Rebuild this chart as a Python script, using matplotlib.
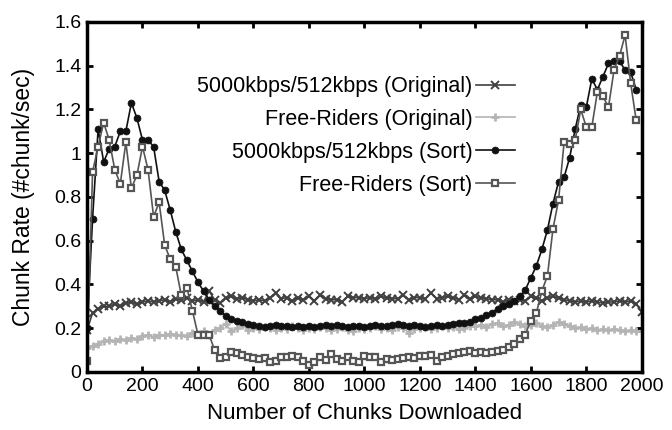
import numpy as np
import matplotlib
matplotlib.use("Agg")
import matplotlib.pyplot as plt

plt.rcParams['font.family'] = ['Liberation Sans', 'DejaVu Sans']

# chunk positions (sampled every 20 chunks)
chunks_orig = np.arange(0, 2001, 20)
chunks_sort = np.arange(0, 1981, 20)

rate_orig = [0.19, 0.27, 0.29, 0.30, 0.30, 0.31, 0.30, 0.315, 0.32, 0.31,
             0.32, 0.325, 0.32, 0.325, 0.33, 0.32, 0.335, 0.33, 0.34, 0.325,
             0.33, 0.32, 0.37, 0.33, 0.315, 0.34, 0.345, 0.335, 0.34, 0.33,
             0.325, 0.33, 0.325, 0.34, 0.36, 0.335, 0.34, 0.325, 0.34, 0.33,
             0.345, 0.325, 0.35, 0.335, 0.33, 0.33, 0.32, 0.345, 0.34, 0.34,
             0.335, 0.34, 0.335, 0.345, 0.34, 0.335, 0.335, 0.35, 0.33, 0.34,
             0.34, 0.335, 0.36, 0.335, 0.34, 0.345, 0.34, 0.33, 0.35, 0.335,
             0.345, 0.34, 0.335, 0.33, 0.33, 0.32, 0.33, 0.325, 0.33, 0.325,
             0.345, 0.34, 0.325, 0.34, 0.345, 0.34, 0.33, 0.325, 0.32, 0.325,
             0.32, 0.325, 0.32, 0.315, 0.32, 0.32, 0.325, 0.32, 0.325, 0.31,
             0.275]

free_orig = [0.11, 0.12, 0.13, 0.14, 0.145, 0.14, 0.15, 0.145, 0.155, 0.15,
             0.165, 0.17, 0.16, 0.17, 0.17, 0.175, 0.17, 0.17, 0.165, 0.18,
             0.175, 0.185, 0.17, 0.19, 0.20, 0.22, 0.185, 0.20, 0.215, 0.19,
             0.20, 0.195, 0.205, 0.20, 0.19, 0.20, 0.195, 0.21, 0.20, 0.19,
             0.20, 0.195, 0.205, 0.20, 0.19, 0.195, 0.205, 0.19, 0.185, 0.20,
             0.195, 0.20, 0.21, 0.195, 0.20, 0.19, 0.205, 0.20, 0.18, 0.195,
             0.20, 0.205, 0.195, 0.20, 0.21, 0.20, 0.205, 0.195, 0.20, 0.21,
             0.21, 0.215, 0.205, 0.22, 0.225, 0.21, 0.215, 0.23, 0.22, 0.21,
             0.215, 0.225, 0.21, 0.205, 0.215, 0.23, 0.22, 0.21, 0.20, 0.205,
             0.195, 0.20, 0.19, 0.195, 0.19, 0.195, 0.19, 0.185, 0.19, 0.185,
             0.185]

rate_sort = [0.20, 0.70, 1.11, 0.96, 1.02, 1.03, 1.10, 1.10, 1.23, 1.16,
             1.06, 1.06, 1.03, 0.87, 0.83, 0.74, 0.64, 0.56, 0.51, 0.46,
             0.41, 0.37, 0.33, 0.30, 0.28, 0.255, 0.24, 0.235, 0.23, 0.22,
             0.215, 0.21, 0.205, 0.21, 0.215, 0.21, 0.21, 0.205, 0.21, 0.205,
             0.21, 0.205, 0.21, 0.215, 0.21, 0.215, 0.21, 0.205, 0.21, 0.21,
             0.205, 0.21, 0.215, 0.21, 0.21, 0.215, 0.22, 0.215, 0.21, 0.215,
             0.21, 0.205, 0.21, 0.215, 0.21, 0.215, 0.22, 0.225, 0.225, 0.23,
             0.24, 0.245, 0.26, 0.27, 0.29, 0.30, 0.31, 0.325, 0.345, 0.375,
             0.43, 0.485, 0.56, 0.65, 0.77, 0.87, 0.89, 0.98, 1.11, 1.22,
             1.21, 1.34, 1.29, 1.35, 1.41, 1.42, 1.42, 1.38, 1.37, 1.29]

free_sort = [0.05, 0.915, 1.03, 1.14, 1.06, 0.925, 0.86, 1.05, 0.84, 0.90,
             1.03, 0.925, 0.71, 0.775, 0.58, 0.515, 0.48, 0.35, 0.385, 0.28,
             0.17, 0.17, 0.17, 0.10, 0.063, 0.07, 0.093, 0.085, 0.078, 0.07,
             0.065, 0.06, 0.065, 0.045, 0.05, 0.07, 0.07, 0.075, 0.07, 0.05,
             0.03, 0.045, 0.07, 0.055, 0.08, 0.06, 0.05, 0.07, 0.05, 0.045,
             0.075, 0.07, 0.07, 0.047, 0.06, 0.055, 0.06, 0.063, 0.068, 0.063,
             0.072, 0.075, 0.078, 0.05, 0.07, 0.075, 0.08, 0.085, 0.09, 0.095,
             0.085, 0.09, 0.085, 0.09, 0.095, 0.10, 0.115, 0.13, 0.15, 0.17,
             0.235, 0.27, 0.37, 0.44, 0.655, 0.785, 1.05, 1.04, 1.06, 1.20,
             1.12, 1.12, 1.28, 1.26, 1.21, 1.38, 1.445, 1.54, 1.32, 1.15]

labels = ['5000kbps/512kbps (Original)', 'Free-Riders (Original)',
          '5000kbps/512kbps (Sort)', 'Free-Riders (Sort)']

fig = plt.figure(figsize=(6.72, 4.30), dpi=100)
ax = fig.add_axes([0.1295, 0.135, 0.8255, 0.814])

ax.plot(chunks_orig, rate_orig, color='#404040', lw=1.2, marker='x',
        ms=5.5, mew=1.4, label=labels[0])
ax.plot(chunks_orig, free_orig, color='#b4b4b4', lw=1.2, marker='+',
        ms=6, mew=2.0, label=labels[1])
ax.plot(chunks_sort, rate_sort, color='#111111', lw=1.2, marker='o',
        ms=5, mew=0.5, label=labels[2])
ax.plot(chunks_sort, free_sort, color='#555555', lw=1.2, marker='s',
        ms=5, mfc='white', mec='#555555', mew=1.6, label=labels[3])

ax.set_xlim(0, 2000)
ax.set_ylim(0, 1.6)
ax.set_xticks(range(0, 2001, 200))
ax.set_yticks([0, 0.2, 0.4, 0.6, 0.8, 1.0, 1.2, 1.4, 1.6])
ax.set_yticklabels(['0', '0.2', '0.4', '0.6', '0.8', '1', '1.2', '1.4', '1.6'])

ax.tick_params(direction='in', length=4, width=2, labelsize=14,
               top=True, right=True, pad=4)
for s in ax.spines.values():
    s.set_linewidth(2.5)

ax.set_xlabel('Number of Chunks Downloaded', fontsize=16, labelpad=6)
ax.set_ylabel('Chunk Rate (#chunk/sec)', fontsize=16.5, labelpad=14)

ax.legend(loc='upper right', bbox_to_anchor=(0.771, 0.845), frameon=False,
          markerfirst=False, fontsize=15.5, handlelength=1.8, handletextpad=0.15,
          labelspacing=0.55, borderpad=0, borderaxespad=0, numpoints=1)

fig.savefig('out.png', dpi=100)
